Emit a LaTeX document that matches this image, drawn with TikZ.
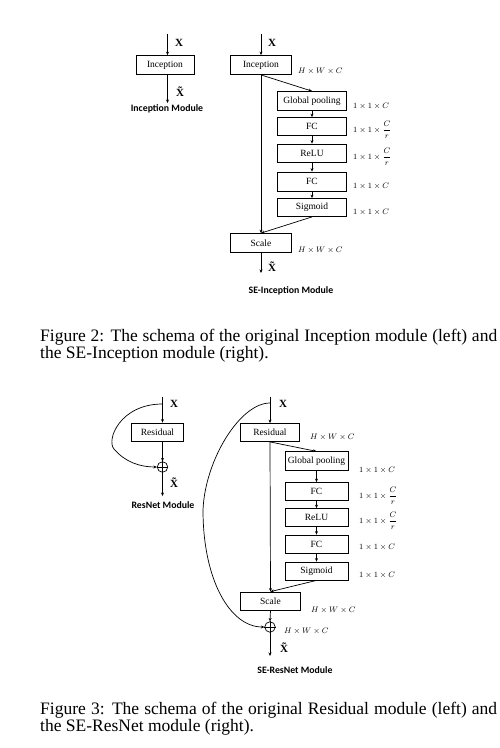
\documentclass[tikz,border=0pt]{standalone}
\usepackage{fontspec}
\setmainfont{Liberation Serif}
\newfontfamily\modfont{Carlito}
\usetikzlibrary{arrows.meta,calc}
\begin{document}
\begin{tikzpicture}[x=1pt,y=-1pt,
  box/.style={draw,line width=0.8pt,inner sep=0pt,font=\fontsize{9.5}{11}\selectfont},
  arr/.style={line width=0.7pt,-{Stealth[length=3.5pt,width=3pt]}},
  dim/.style={anchor=west,inner sep=0pt,font=\fontsize{8}{9}\selectfont},
  xl/.style={inner sep=0pt,font=\fontsize{11}{12}\selectfont\bfseries},
  modl/.style={inner sep=0pt,font=\modfont\fontsize{9.8}{11}\selectfont\bfseries},
  captext/.style={anchor=base west,inner sep=0pt,font=\fontsize{17.5}{18}\selectfont},
  plus/.style={draw,circle,line width=0.7pt,minimum size=10.5pt,inner sep=0pt}]
\useasboundingbox (0,0) rectangle (499,748);
% ---------- Figure 2 left ----------
\coordinate (a1) at (167.5,34);
\node[box,minimum width=58pt,minimum height=19pt] (inc1) at (165,65) {Inception};
\coordinate (a1o) at (167.5,103);
\draw[arr] (a1) -- (a1 |- inc1.north);
\draw[arr] (a1 |- inc1.south) -- (a1o);
\node[xl] (x1) at (179,43) {X};
\node[xl] (xt1) at (180,92) {\~X};
\node[modl] (m1) at (167,109) {Inception Module};
% ---------- Figure 2 right ----------
\coordinate (a2) at (261,34);
\node[box,minimum width=61pt,minimum height=19pt] (inc2) at (261,65) {Inception};
\node[xl] (x2) at (272,43) {X};
\node[dim] (d20) at (298,71.5) {$H\times W\times C$};
\node[box,minimum width=69pt,minimum height=19pt] (gp2) at (312,101) {Global pooling};
\node[box,minimum width=69pt,minimum height=18pt] (fc2a) at (312,126.5) {FC};
\node[box,minimum width=69pt,minimum height=18pt] (re2) at (312,153) {ReLU};
\node[box,minimum width=69pt,minimum height=19pt] (fc2b) at (312,181.5) {FC};
\node[box,minimum width=69pt,minimum height=18pt] (sg2) at (312,207.5) {Sigmoid};
\node[box,minimum width=61pt,minimum height=19pt] (sc2) at (261,243) {Scale};
\node[dim] (d21) at (353,106) {$1\times 1\times C$};
\node[dim] (d22) at (353,130) {$1\times 1\times \displaystyle\frac{C}{r}$};
\node[dim] (d23) at (353,157) {$1\times 1\times \displaystyle\frac{C}{r}$};
\node[dim] (d24) at (353,186) {$1\times 1\times C$};
\node[dim] (d25) at (353,212.5) {$1\times 1\times C$};
\node[dim] (d26) at (298,250) {$H\times W\times C$};
\coordinate (a2o) at (261,273);
\node[xl] (xt2) at (272,267) {\~X};
\node[modl] (m2) at (291,291) {SE-Inception Module};
\draw[arr] (a2) -- (inc2.north);
\draw[arr] (inc2.south) -- (gp2.north);
\draw[arr] (inc2.south) -- (sc2.north);
\draw[arr] (gp2) -- (fc2a);
\draw[arr] (fc2a) -- (re2);
\draw[arr] (re2) -- (fc2b);
\draw[arr] (fc2b) -- (sg2);
\draw[arr] (sg2.south) -- (sc2.north);
\draw[arr] (sc2.south) -- (a2o);
% ---------- captions 2 ----------
\node[captext] (c2a) at (40,341) {\makebox[457pt][s]{Figure 2: The schema of the original Inception module (left) and}};
\node[captext] (c2b) at (40,358.5) {the SE-Inception module (right).};
% ---------- Figure 3 left ----------
\coordinate (a3) at (162.5,397);
\node[box,minimum width=52pt,minimum height=18pt] (res3) at (157.5,432) {Residual};
\node[xl] (x3) at (174,404) {X};
\node[plus] (p3) at (162.5,467) {};
\draw[line width=0.5pt] (p3.north) -- (p3.south) (p3.west) -- (p3.east);
\coordinate (a3o) at (162.5,496);
\node[xl] (xt3) at (174,483) {\~X};
\node[modl] (m3) at (163,505) {ResNet Module};
\draw[arr] (a3) -- (a3 |- res3.north);
\draw[arr] (a3 |- res3.south) -- (p3.north);
\draw[arr] (p3.south) -- (a3o);
\coordinate (s3) at (162.5,404);
\draw[arr] (s3) .. controls (120,404) and (106,440) .. (114,449) .. controls (125,462) and (140,467) .. (p3.west);
% ---------- Figure 3 right ----------
\coordinate (a4) at (270,397);
\node[box,minimum width=59pt,minimum height=18pt] (res4) at (270,432.5) {Residual};
\node[xl] (x4) at (283,404) {X};
\node[dim] (d40) at (310,437) {$H\times W\times C$};
\node[box,minimum width=63pt,minimum height=18.5pt] (gp4) at (316.5,461) {Global pooling};
\node[box,minimum width=63pt,minimum height=18pt] (fc4a) at (316.5,491.5) {FC};
\node[box,minimum width=63pt,minimum height=18pt] (re4) at (316.5,517.5) {ReLU};
\node[box,minimum width=63pt,minimum height=18pt] (fc4b) at (316.5,544) {FC};
\node[box,minimum width=63pt,minimum height=18pt] (sg4) at (316.5,571) {Sigmoid};
\node[box,minimum width=60pt,minimum height=18pt] (sc4) at (270.5,601) {Scale};
\node[dim] (d41) at (359,470.5) {$1\times 1\times C$};
\node[dim] (d42) at (359,496) {$1\times 1\times \displaystyle\frac{C}{r}$};
\node[dim] (d43) at (359,521) {$1\times 1\times \displaystyle\frac{C}{r}$};
\node[dim] (d44) at (359,547) {$1\times 1\times C$};
\node[dim] (d45) at (359,575) {$1\times 1\times C$};
\node[dim] (d46) at (311,610) {$H\times W\times C$};
\node[plus] (p4) at (270,627) {};
\draw[line width=0.5pt] (p4.north) -- (p4.south) (p4.west) -- (p4.east);
\node[dim] (d47) at (284,631) {$H\times W\times C$};
\coordinate (a4o) at (270,656);
\node[xl] (xt4) at (284,648) {\~X};
\node[modl] (m4) at (295,670) {SE-ResNet Module};
\draw[arr] (a4) -- (res4.north);
\draw[arr] (res4.south) -- (gp4.north);
\draw[arr] (res4.south) -- (sc4.north);
\draw[arr] (gp4) -- (fc4a);
\draw[arr] (fc4a) -- (re4);
\draw[arr] (re4) -- (fc4b);
\draw[arr] (fc4b) -- (sg4);
\draw[arr] (sg4.south) -- (sc4.north);
\draw[arr] (sc4.south) -- (p4.north);
\draw[arr] (p4.south) -- (a4o);
\coordinate (s4) at (270,403);
\draw[arr] (s4) .. controls (240,403) and (205,460) .. (203,510) .. controls (203,580) and (230,627) .. (p4.west);
% ---------- captions 3 ----------
\node[captext] (c3a) at (40,714) {\makebox[457pt][s]{Figure 3: The schema of the original Residual module (left) and}};
\node[captext] (c3b) at (40,731.5) {the SE-ResNet module (right).};
\end{tikzpicture}
\end{document}
